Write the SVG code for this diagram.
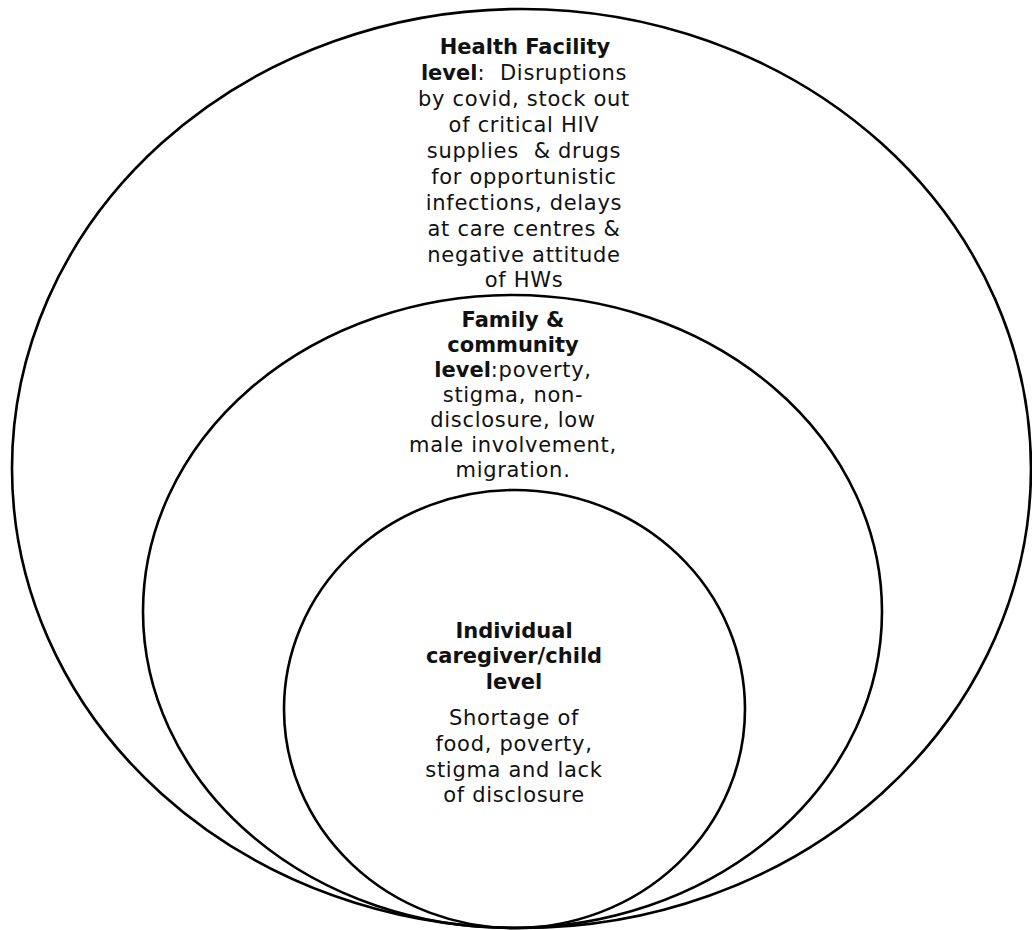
<svg xmlns="http://www.w3.org/2000/svg" width="1032" height="930" viewBox="0 0 1032 930">
<style>
.ring{fill:none;stroke:#000;stroke-width:2.6}
.t{font-family:"DejaVu Sans","Liberation Sans",sans-serif;font-size:21px;letter-spacing:0.7px;fill:#111;text-anchor:middle;white-space:pre}
.b{font-weight:bold;letter-spacing:0}
</style>
<rect width="1032" height="930" fill="#fff"/>
<g id="health-facility">
<ellipse class="ring" cx="521.5" cy="468.5" rx="509.5" ry="459.5"/>
<text class="t b" x="525" y="54">Health Facility</text>
<text class="t" x="524" y="80" xml:space="preserve"><tspan class="b">level</tspan>:  Disruptions</text>
<text class="t" x="524" y="106">by covid, stock out</text>
<text class="t" x="524" y="132">of critical HIV</text>
<text class="t" x="524" y="158" xml:space="preserve">supplies  &amp; drugs</text>
<text class="t" x="524" y="184">for opportunistic</text>
<text class="t" x="524" y="210">infections, delays</text>
<text class="t" x="524" y="236">at care centres &amp;</text>
<text class="t" x="524" y="262">negative attitude</text>
<text class="t" x="524" y="287">of HWs</text>
</g>
<g id="family-community">
<ellipse class="ring" cx="512.5" cy="611.5" rx="369.5" ry="316.5"/>
<text class="t b" x="513" y="327">Family &amp;</text>
<text class="t b" x="513" y="352">community</text>
<text class="t" x="513" y="377"><tspan class="b">level</tspan>:poverty,</text>
<text class="t" x="513" y="402">stigma, non-</text>
<text class="t" x="513" y="427">disclosure, low</text>
<text class="t" x="513" y="452">male involvement,</text>
<text class="t" x="513" y="477">migration.</text>
</g>
<g id="individual">
<ellipse class="ring" cx="514.5" cy="709" rx="230.5" ry="219"/>
<text class="t b" x="514" y="638">Individual</text>
<text class="t b" x="514" y="663">caregiver/child</text>
<text class="t b" x="514" y="689">level</text>
<text class="t" x="514" y="725">Shortage of</text>
<text class="t" x="514" y="751">food, poverty,</text>
<text class="t" x="514" y="777">stigma and lack</text>
<text class="t" x="514" y="802">of disclosure</text>
</g>
<g id="connectors"/>
</svg>
